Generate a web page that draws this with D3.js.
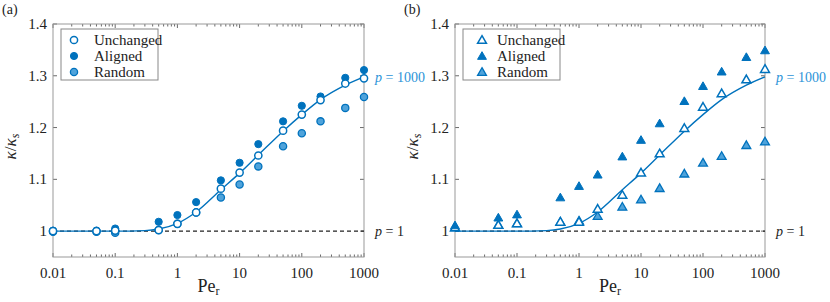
<!DOCTYPE html>
<html>
<head>
<meta charset="utf-8">
<script src="https://cdn.jsdelivr.net/npm/d3@7"></script>
<style>
  body { margin: 0; background: #fff; }
  svg, text, tspan { font-family: 'Liberation Serif', 'Times New Roman', serif; }
</style>
</head>
<body>
<div id="chart"></div>
<script>
// Péclet numbers (x values)
const pe = [0.01, 0.05, 0.1, 0.5, 1, 2, 5, 10, 20, 50, 100, 200, 500, 1000];

// panel (a) - circles
const circUnchanged = [1.0, 1.0, 1.001, 1.002, 1.014, 1.036, 1.082, 1.113, 1.146, 1.194, 1.225, 1.253, 1.285, 1.295];
const circAligned = [1.001, 1.001, 1.005, 1.018, 1.031, 1.056, 1.098, 1.132, 1.168, 1.212, 1.242, 1.260, 1.296, 1.311];
const circRandom = [0.999, 0.999, 0.997, 1.002, 1.014, 1.036, 1.065, 1.090, 1.125, 1.164, 1.189, 1.212, 1.238, 1.259];

// panel (b) - triangles
const triUnchanged = [1.007, 1.012, 1.015, 1.018, 1.018, 1.043, 1.070, 1.113, 1.150, 1.199, 1.240, 1.266, 1.293, 1.313];
const triAligned = [1.011, 1.026, 1.032, 1.065, 1.087, 1.109, 1.144, 1.176, 1.208, 1.251, 1.280, 1.308, 1.336, 1.349];
const triRandom = [1.007, 1.012, 1.015, 1.018, 1.020, 1.029, 1.047, 1.061, 1.083, 1.111, 1.132, 1.145, 1.166, 1.173];

// p = 1000 curve
const curveX = [0.01, 0.1, 0.3, 0.5, 1, 2, 5, 10, 20, 50, 100, 200, 500, 1000];
const curveY = [1.0, 1.0, 1.001, 1.004, 1.015, 1.037, 1.080, 1.112, 1.147, 1.193, 1.225, 1.254, 1.282, 1.298];

const xTicks = [0.01, 0.1, 1, 10, 100, 1000];
const xTickLabels = ['0.01', '0.1', '1', '10', '100', '1000'];
const yTicks = [1, 1.1, 1.2, 1.3, 1.4];
const yTickLabels = ['1', '1.1', '1.2', '1.3', '1.4'];
const seriesNames = ['Unchanged', 'Aligned', 'Random'];

const blue = '#0072BD';
const lightBlue = '#4FA3DB';
const labelBlue = '#2C93D8';
const serif = "'Liberation Serif', 'Times New Roman', serif";

const svg = d3.select('#chart').append('svg')
  .attr('width', 830)
  .attr('height', 302)
  .attr('font-family', serif);

function markerStyle(sel, kind) {
  if (kind === 'Unchanged') sel.attr('fill', '#fff').attr('stroke', blue).attr('stroke-width', 1.5);
  else if (kind === 'Aligned') sel.attr('fill', blue).attr('stroke', blue).attr('stroke-width', 1);
  else sel.attr('fill', lightBlue).attr('stroke', blue).attr('stroke-width', 1.3);
}

function drawPanel(left, right, tag, shape, series, drawOrder) {
  const top = 24, bottom = 257;
  const x = d3.scaleLog().domain([0.01, 1000]).range([left, right]);
  const y = d3.scaleLinear().domain([0.95, 1.4]).range([bottom, top]);
  const g = svg.append('g');

  // minor + major ticks top and bottom (pointing inward)
  const minors = [];
  for (let e = -2; e < 3; e++) for (let m = 2; m < 10; m++) minors.push(m * Math.pow(10, e));
  g.selectAll('.mnb').data(minors).join('line')
    .attr('x1', d => x(d)).attr('x2', d => x(d))
    .attr('y1', bottom).attr('y2', bottom - 2.5)
    .attr('stroke', '#444').attr('stroke-width', 0.8);
  g.selectAll('.mnt').data(minors).join('line')
    .attr('x1', d => x(d)).attr('x2', d => x(d))
    .attr('y1', top).attr('y2', top + 2.5)
    .attr('stroke', '#444').attr('stroke-width', 0.8);
  g.selectAll('.mjb').data(xTicks).join('line')
    .attr('x1', d => x(d)).attr('x2', d => x(d))
    .attr('y1', bottom).attr('y2', bottom - 4)
    .attr('stroke', '#444').attr('stroke-width', 0.8);
  g.selectAll('.mjt').data(xTicks).join('line')
    .attr('x1', d => x(d)).attr('x2', d => x(d))
    .attr('y1', top).attr('y2', top + 4)
    .attr('stroke', '#444').attr('stroke-width', 0.8);
  g.selectAll('.ytl').data(yTicks).join('line')
    .attr('x1', left).attr('x2', left + 4)
    .attr('y1', d => y(d)).attr('y2', d => y(d))
    .attr('stroke', '#444').attr('stroke-width', 0.8);
  g.selectAll('.ytr').data(yTicks).join('line')
    .attr('x1', right).attr('x2', right - 4)
    .attr('y1', d => y(d)).attr('y2', d => y(d))
    .attr('stroke', '#444').attr('stroke-width', 0.8);

  // box
  g.append('rect')
    .attr('x', left).attr('y', top)
    .attr('width', right - left).attr('height', bottom - top)
    .attr('fill', 'none').attr('stroke', '#999').attr('stroke-width', 1);

  // tick labels
  g.selectAll('.xl').data(xTicks).join('text')
    .attr('x', d => x(d)).attr('y', 278)
    .attr('text-anchor', 'middle').attr('font-size', 15).attr('fill', '#222')
    .attr('font-family', serif)
    .text((d, i) => xTickLabels[i]);
  g.selectAll('.yl').data(yTicks).join('text')
    .attr('x', left - 6).attr('y', d => y(d) + 5)
    .attr('text-anchor', 'end').attr('font-size', 15).attr('fill', '#222')
    .attr('font-family', serif)
    .text((d, i) => yTickLabels[i]);

  // axis titles
  const xt = g.append('text')
    .attr('x', (left + right) / 2).attr('y', 292)
    .attr('text-anchor', 'middle').attr('font-size', 18).attr('fill', '#222')
    .attr('font-family', serif);
  xt.append('tspan').text('Pe');
  xt.append('tspan').attr('font-size', 12).attr('dy', 3).text('r');

  const yt = g.append('text')
    .attr('transform', `translate(${left - 37},${(top + bottom) / 2 + 6}) rotate(-90)`)
    .attr('text-anchor', 'middle').attr('font-size', 17).attr('fill', '#222')
    .attr('font-family', serif);
  yt.append('tspan').attr('font-style', 'italic').text('κ');
  yt.append('tspan').text('/');
  yt.append('tspan').attr('font-style', 'italic').text('κ');
  yt.append('tspan').attr('font-style', 'italic').attr('font-size', 12).attr('dy', 3).text('s');

  g.append('text')
    .attr('x', left - 51).attr('y', 14)
    .attr('font-size', 14).attr('fill', '#222')
    .text(tag);

  // p = 1 dashed line
  g.append('line')
    .attr('x1', x(0.01)).attr('x2', x(1000))
    .attr('y1', y(1)).attr('y2', y(1))
    .attr('stroke', '#222').attr('stroke-width', 1.2)
    .attr('stroke-dasharray', '4,3');

  // p = 1000 curve
  const line = d3.line()
    .x(d => x(d[0])).y(d => y(d[1]))
    .curve(d3.curveMonotoneX);
  g.append('path')
    .datum(curveX.map((v, i) => [v, curveY[i]]))
    .attr('d', line)
    .attr('fill', 'none').attr('stroke', blue).attr('stroke-width', 1.4);

  // markers
  const tri = d3.symbol().type(d3.symbolTriangle).size(34);
  drawOrder.forEach(name => {
    const vals = series[name];
    const pts = pe.map((v, i) => [v, vals[i]]);
    let sel;
    if (shape === 'circle') {
      sel = g.selectAll('.m-' + name).data(pts).join('circle')
        .attr('cx', d => x(d[0])).attr('cy', d => y(d[1])).attr('r', 3.6);
    } else {
      sel = g.selectAll('.m-' + name).data(pts).join('path')
        .attr('d', tri)
        .attr('transform', d => `translate(${x(d[0])},${y(d[1]) + 0.8})`);
    }
    markerStyle(sel, name);
  });

  // legend
  const lx = left + 8, ly = 29;
  g.append('rect')
    .attr('x', lx).attr('y', ly).attr('width', 97).attr('height', 51)
    .attr('fill', '#fff').attr('stroke', '#888').attr('stroke-width', 1);
  seriesNames.forEach((name, i) => {
    const cy = ly + 11 + i * 16;
    let m;
    if (shape === 'circle') {
      m = g.append('circle').attr('cx', lx + 13).attr('cy', cy).attr('r', 3.6);
    } else {
      m = g.append('path').attr('d', tri).attr('transform', `translate(${lx + 19},${cy + 0.8})`);
    }
    markerStyle(m, name);
    g.append('text')
      .attr('x', shape === 'circle' ? lx + 33 : lx + 34).attr('y', cy + 5)
      .attr('font-size', 15).attr('fill', '#222')
      .text(name);
  });

  // curve labels
  const p1000 = g.append('text')
    .attr('x', right + 11).attr('y', y(1.298) + 5)
    .attr('font-size', 14).attr('fill', labelBlue);
  p1000.append('tspan').attr('font-style', 'italic').text('p');
  p1000.append('tspan').text(' = 1000');

  const p1 = g.append('text')
    .attr('x', right + 11).attr('y', y(1) + 5)
    .attr('font-size', 14).attr('fill', '#222');
  p1.append('tspan').attr('font-style', 'italic').text('p');
  p1.append('tspan').text(' = 1');
}

drawPanel(53, 364, '(a)', 'circle',
  { Unchanged: circUnchanged, Aligned: circAligned, Random: circRandom },
  ['Random', 'Aligned', 'Unchanged']);
drawPanel(455, 765, '(b)', 'triangle',
  { Unchanged: triUnchanged, Aligned: triAligned, Random: triRandom },
  ['Random', 'Unchanged', 'Aligned']);
</script>
</body>
</html>
